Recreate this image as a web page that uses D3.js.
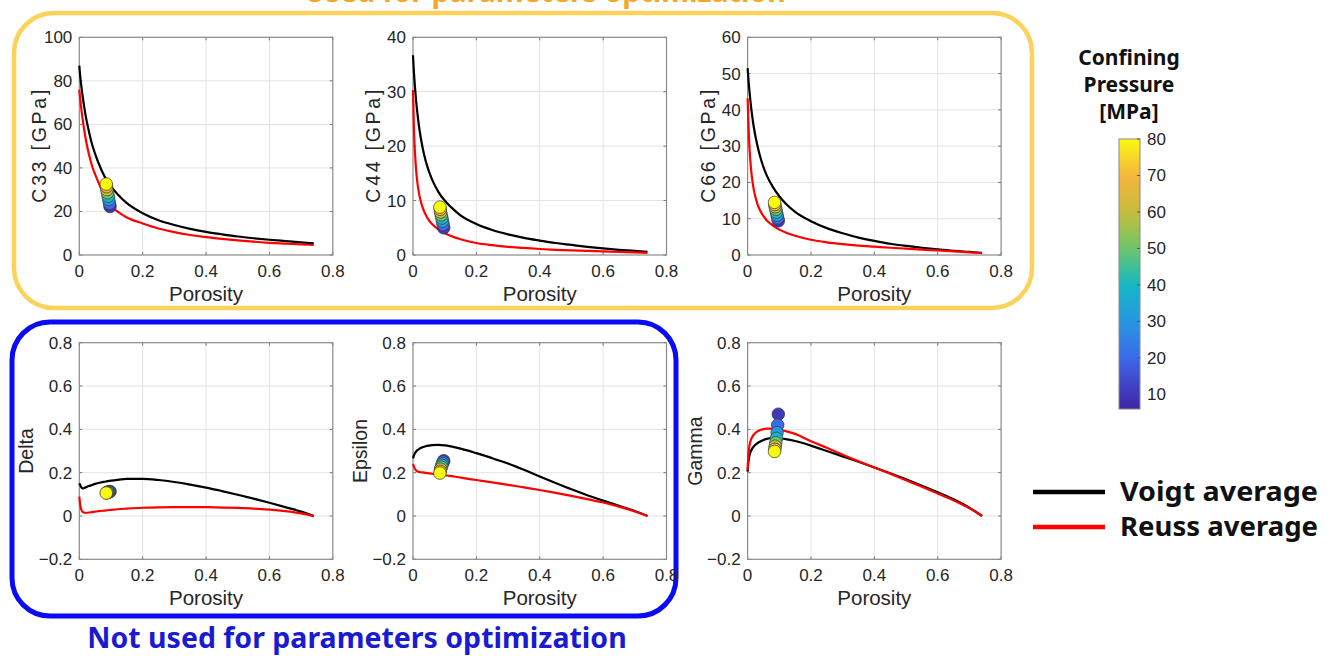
<!DOCTYPE html>
<html><head><meta charset="utf-8">
<script src="https://cdn.jsdelivr.net/npm/d3@7"></script>
<style>body{margin:0;background:#fff;} svg{display:block;}</style>
</head><body><svg id="c" width="1335" height="656"></svg>
<script>
// ---------- DATA ----------
const porosityGrid = [0,0.003,0.006,0.01,0.015,0.02,0.03,0.04,0.05,0.06,0.08,0.1,0.12,0.15,0.2,0.25,0.3,0.35,0.4,0.45,0.5,0.55,0.6,0.65,0.7,0.74];

const c33Voigt = [87,82,78,73.5,68.5,64,57,51,46.5,42.5,36,31.5,28,23.8,19.2,16,13.8,12,10.6,9.5,8.5,7.7,7.0,6.4,5.8,5.3];
const c33Reuss = [76,71.5,67.5,63,58,53.5,46.5,41,37,33.5,27,22.5,20,17.2,14.5,12.2,10.5,9.2,8.2,7.4,6.7,6.1,5.6,5.2,4.9,4.6];
const c44Voigt = [36.7,33.5,31,28.2,25.5,23.2,19.8,17.3,15.4,13.9,11.6,10,8.8,7.3,5.7,4.6,3.8,3.15,2.65,2.2,1.85,1.5,1.2,0.95,0.75,0.6];
const c44Reuss = [30.3,23,19,15.5,12.8,11,8.8,7.4,6.4,5.7,4.7,4.0,3.5,2.9,2.2,1.8,1.5,1.3,1.1,0.95,0.85,0.75,0.65,0.55,0.48,0.4];
const c66Voigt = [51.5,48,45,41.5,38,35,30.5,27,24.2,22,18.7,16.2,14.2,11.9,9.3,7.4,6,4.8,3.9,3.1,2.5,2,1.55,1.15,0.85,0.6];
const c66Reuss = [43.2,35,29.5,24.5,20.5,17.8,14.3,12.2,10.7,9.6,8.1,7.0,6.2,5.3,4.2,3.5,3.0,2.6,2.3,2.0,1.75,1.5,1.25,1.0,0.75,0.5];
const deltaVoigt = [0.151,0.142,0.133,0.127,0.129,0.132,0.138,0.143,0.148,0.152,0.158,0.163,0.167,0.171,0.171,0.166,0.157,0.145,0.131,0.115,0.098,0.080,0.061,0.041,0.020,0];
const deltaReuss = [0.089,0.05,0.03,0.02,0.016,0.015,0.016,0.018,0.020,0.022,0.025,0.028,0.031,0.034,0.038,0.040,0.041,0.041,0.041,0.039,0.037,0.034,0.029,0.022,0.012,0];
const epsilonVoigt = [0.266,0.28,0.29,0.298,0.305,0.31,0.317,0.322,0.325,0.327,0.328,0.326,0.321,0.311,0.29,0.267,0.242,0.213,0.182,0.152,0.123,0.096,0.071,0.047,0.023,0];
const epsilonReuss = [0.24,0.228,0.218,0.21,0.205,0.203,0.201,0.199,0.197,0.195,0.192,0.188,0.184,0.177,0.166,0.155,0.144,0.132,0.12,0.107,0.093,0.078,0.062,0.043,0.021,0];
const gammaVoigt = [0.205,0.255,0.28,0.298,0.312,0.322,0.335,0.344,0.351,0.356,0.36,0.359,0.355,0.346,0.325,0.3,0.275,0.25,0.224,0.197,0.169,0.14,0.11,0.077,0.038,0];
const gammaReuss = [0.212,0.29,0.325,0.35,0.366,0.376,0.389,0.397,0.401,0.403,0.403,0.399,0.392,0.379,0.345,0.315,0.283,0.253,0.224,0.195,0.165,0.135,0.104,0.072,0.036,0];

const pressures   = [10,20,30,40,50,60,70,80];
const ptPorosity  = [0.097,0.095,0.093,0.091,0.089,0.087,0.086,0.085];
const ptC33       = [22.3,23.8,25.5,27.0,28.6,30.0,31.4,32.6];
const ptC44       = [5.0,5.6,6.2,6.8,7.4,7.9,8.4,8.8];
const ptC66       = [9.4,10.2,11.0,11.8,12.6,13.3,13.9,14.5];
const ptDelta     = [0.113,0.112,0.111,0.110,0.109,0.108,0.107,0.106];
const ptEpsilon   = [0.255,0.249,0.242,0.234,0.225,0.216,0.206,0.198];
const ptGamma     = [0.470,0.420,0.385,0.358,0.338,0.322,0.308,0.298];

const xTicks = [0,0.2,0.4,0.6,0.8];
const c33Ticks = [0,20,40,60,80,100];
const c44Ticks = [0,10,20,30,40];
const c66Ticks = [0,10,20,30,40,50,60];
const anisoTicks = [-0.2,0,0.2,0.4,0.6,0.8];
const cbTicks = [10,20,30,40,50,60,70,80];
const cbDomain = [6,80];

const legendLabels = ["Voigt average","Reuss average"];
const colorbarTitle = ["Confining","Pressure","[MPa]"];
const topTitle = "Used for parameters optimization";
const bottomTitle = "Not used for parameters optimization";

// ---------- LAYOUT ----------
const svg = d3.select("#c");
const W = 253.5;
const rows = [{top:37.3,h:217.7},{top:342.7,h:216.6}];
const lefts = [79.3,413,747.6];

const panels = [
  {row:0,col:0,label:"C33 [GPa]",ticks:c33Ticks,v:c33Voigt,r:c33Reuss,pts:ptC33},
  {row:0,col:1,label:"C44 [GPa]",ticks:c44Ticks,v:c44Voigt,r:c44Reuss,pts:ptC44},
  {row:0,col:2,label:"C66 [GPa]",ticks:c66Ticks,v:c66Voigt,r:c66Reuss,pts:ptC66},
  {row:1,col:0,label:"Delta",ticks:anisoTicks,v:deltaVoigt,r:deltaReuss,pts:ptDelta},
  {row:1,col:1,label:"Epsilon",ticks:anisoTicks,v:epsilonVoigt,r:epsilonReuss,pts:ptEpsilon},
  {row:1,col:2,label:"Gamma",ticks:anisoTicks,v:gammaVoigt,r:gammaReuss,pts:ptGamma}
];

// parula-like colormap
const parulaPos = [0,0.054,0.19,0.32,0.46,0.59,0.73,0.865,1];
const parulaCol = ["#3e26a8","#4135b8","#3c6ae8","#2896e2","#14b8c6","#6ac66c","#c8bc3c","#f6b43e","#f9fb0e"];
const tScale = d3.scaleLinear().domain(cbDomain).range([0,1]);
const parula = d3.scaleLinear().domain(parulaPos).range(parulaCol).interpolate(d3.interpolateRgb);
const pColor = p => parula(tScale(p));

// boxes
svg.append("rect").attr("x",14).attr("y",13).attr("width",1018).attr("height",295)
  .attr("rx",40).attr("fill","none").attr("stroke","#fbd35a").attr("stroke-width",4.5);
svg.append("rect").attr("x",12).attr("y",322).attr("width",664).attr("height",294)
  .attr("rx",38).attr("fill","none").attr("stroke","#0a0af5").attr("stroke-width",5);

svg.append("text").attr("x",545).attr("y",2).attr("text-anchor","middle")
  .attr("font-family","Noto Sans").attr("font-weight","bold").attr("font-size",28.5)
  .attr("fill","#f5a623").text(topTitle);
svg.append("text").attr("x",357).attr("y",648).attr("text-anchor","middle")
  .attr("font-family","Noto Sans").attr("font-weight","bold").attr("font-size",28.5)
  .attr("fill","#1a1ad2").text(bottomTitle);

const fmt = v => (v===0 ? "0" : String(+v.toFixed(2)).replace("-","\u2212"));
const line = (xs, ys) => d3.line().x(d=>xs(d[0])).y(d=>ys(d[1])).curve(d3.curveMonotoneX);

panels.forEach(p => {
  const L = lefts[p.col], T = rows[p.row].top, H = rows[p.row].h;
  const x = d3.scaleLinear().domain([0,0.8]).range([L, L+W]);
  const y = d3.scaleLinear().domain([p.ticks[0], p.ticks[p.ticks.length-1]]).range([T+H, T]);
  const g = svg.append("g");
  // grid
  g.selectAll(".gx").data(xTicks.slice(1,-1)).enter().append("line")
    .attr("x1",d=>x(d)).attr("x2",d=>x(d)).attr("y1",T).attr("y2",T+H)
    .attr("stroke","#e3e3e3").attr("stroke-width",1);
  g.selectAll(".gy").data(p.ticks.slice(1,-1)).enter().append("line")
    .attr("y1",d=>y(d)).attr("y2",d=>y(d)).attr("x1",L).attr("x2",L+W)
    .attr("stroke","#e3e3e3").attr("stroke-width",1);
  // ticks (inside, all sides)
  xTicks.forEach(t => {
    g.append("line").attr("x1",x(t)).attr("x2",x(t)).attr("y1",T+H).attr("y2",T+H-3).attr("stroke","#777");
    g.append("line").attr("x1",x(t)).attr("x2",x(t)).attr("y1",T).attr("y2",T+3).attr("stroke","#777");
  });
  p.ticks.forEach(t => {
    g.append("line").attr("y1",y(t)).attr("y2",y(t)).attr("x1",L).attr("x2",L+3).attr("stroke","#777");
    g.append("line").attr("y1",y(t)).attr("y2",y(t)).attr("x1",L+W).attr("x2",L+W-3).attr("stroke","#777");
  });
  // box
  g.append("rect").attr("x",L).attr("y",T).attr("width",W).attr("height",H)
    .attr("fill","none").attr("stroke","#8a8a8a").attr("stroke-width",1.2);
  // tick labels
  g.selectAll(".xl").data(xTicks).enter().append("text")
    .attr("x",d=>x(d)).attr("y",T+H+22).attr("text-anchor","middle")
    .attr("font-family","Liberation Sans").attr("font-size",17).attr("fill","#262626").text(fmt);
  g.selectAll(".yl").data(p.ticks).enter().append("text")
    .attr("x",L-7).attr("y",d=>y(d)+6).attr("text-anchor","end")
    .attr("font-family","Liberation Sans").attr("font-size",17).attr("fill","#262626").text(fmt);
  // axis labels
  g.append("text").attr("x",L+W/2).attr("y",T+H+46).attr("text-anchor","middle")
    .attr("font-family","Liberation Sans").attr("font-size",20.5).attr("fill","#262626").text("Porosity");
  const lx = p.row===0 ? L-33 : L-46;
  const yl = g.append("text").attr("transform",`translate(${lx},${T+H/2}) rotate(-90)`).attr("text-anchor","middle")
    .attr("font-family","Liberation Sans").attr("font-size",19.5).attr("fill","#262626").text(p.label);
  if (p.row===0) yl.attr("textLength",113).attr("lengthAdjust","spacing");
  // curves
  const dv = porosityGrid.map((ph,i)=>[ph,p.v[i]]);
  const dr = porosityGrid.map((ph,i)=>[ph,p.r[i]]);
  g.append("path").attr("d",line(x,y)(dv)).attr("fill","none").attr("stroke","#000").attr("stroke-width",2.2);
  g.append("path").attr("d",line(x,y)(dr)).attr("fill","none").attr("stroke","#ff0000").attr("stroke-width",2.2);
  // points
  g.selectAll(".pt").data(pressures.map((pr,i)=>({pr,ph:ptPorosity[i],v:p.pts[i]}))).enter().append("circle")
    .attr("cx",d=>x(d.ph)).attr("cy",d=>y(d.v)).attr("r",6.3)
    .attr("fill",d=>pColor(d.pr)).attr("stroke","#3a3a3a").attr("stroke-width",0.7);
});

// colorbar
const cbX = 1119, cbW = 21, cbTop = 139, cbBot = 409;
const cy = d3.scaleLinear().domain(cbDomain).range([cbBot, cbTop]);
const grad = svg.append("defs").append("linearGradient").attr("id","cbg")
  .attr("x1",0).attr("y1",1).attr("x2",0).attr("y2",0);
d3.range(0,1.0001,0.05).forEach(t => grad.append("stop").attr("offset",t).attr("stop-color",parula(t)));
svg.append("rect").attr("x",cbX).attr("y",cbTop).attr("width",cbW).attr("height",cbBot-cbTop)
  .attr("fill","url(#cbg)").attr("stroke","#8a8a8a").attr("stroke-width",1);
cbTicks.forEach(t => {
  svg.append("line").attr("x1",cbX+cbW).attr("x2",cbX+cbW-3).attr("y1",cy(t)).attr("y2",cy(t)).attr("stroke","#555");
  svg.append("text").attr("x",cbX+cbW+7).attr("y",cy(t)+6).attr("font-family","Liberation Sans")
    .attr("font-size",17).attr("fill","#262626").text(t);
});
colorbarTitle.forEach((s,i) => {
  svg.append("text").attr("x",1129).attr("y",65+i*27).attr("text-anchor","middle")
    .attr("font-family","Noto Sans").attr("font-weight","bold").attr("font-size",21).attr("fill","#111").text(s);
});

// legend
const legColors = ["#000","#ff0000"];
legendLabels.forEach((s,i) => {
  const yy = 492 + i*35;
  svg.append("line").attr("x1",1033).attr("x2",1105).attr("y1",yy).attr("y2",yy)
    .attr("stroke",legColors[i]).attr("stroke-width",4.5);
  svg.append("text").attr("x",1120).attr("y",yy+9).attr("font-family","Noto Sans").attr("font-weight","bold")
    .attr("font-size",26).attr("textLength",198).attr("lengthAdjust","spacingAndGlyphs")
    .attr("fill","#111").text(s);
});
</script></body></html>
